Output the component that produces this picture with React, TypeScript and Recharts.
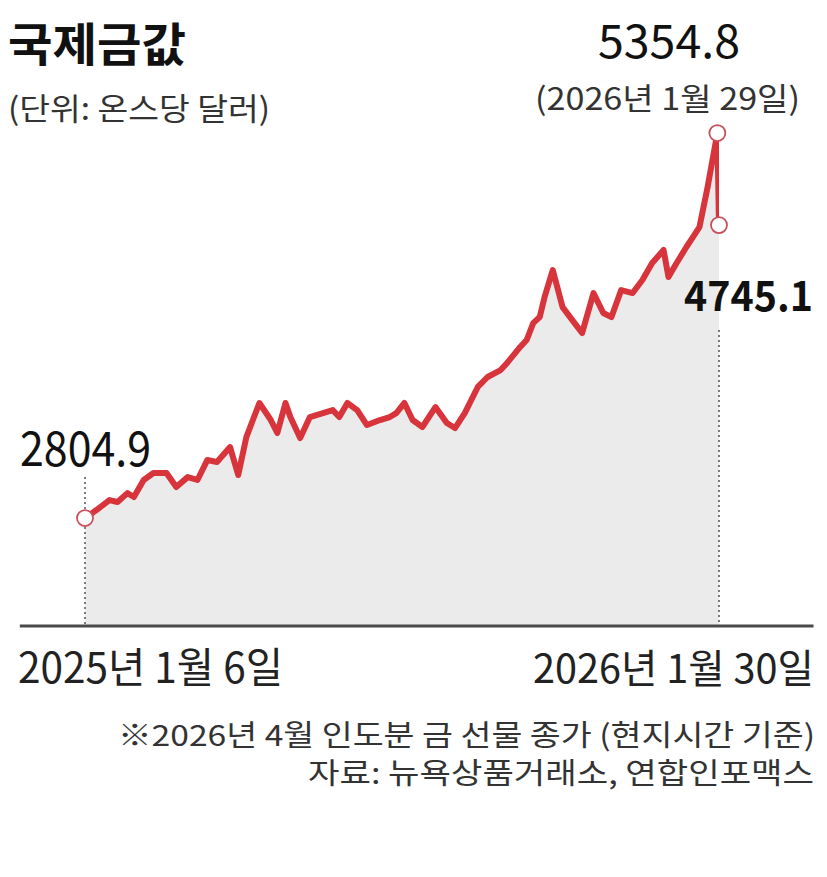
import React from "react"
import { ComposedChart, Area, Line, XAxis, YAxis, ReferenceLine, ReferenceDot } from "recharts"

// days since 2025-01-06 (day 388 = 2026-01-29, day 389 = 2026-01-30)
const days = [
  0, 7, 15, 20, 26, 30, 36, 42, 50, 56,
  63, 69, 75, 81, 89, 94, 99, 103, 107, 114,
  118, 123, 126, 132, 138, 146, 152, 156, 161, 167,
  173, 181, 187, 191, 196, 201, 207, 215, 222, 227,
  233, 241, 247, 255, 259, 267, 271, 275, 279, 282,
  287, 293, 299, 305, 312, 318, 323, 329, 336, 342,
  348, 355, 358, 363, 369, 373, 377, 382, 388, 389,
]

// April 2026 gold futures close, USD per ounce
const prices = [
  2804.9, 2858, 2924, 2911, 2970, 2944, 3057, 3103, 3103, 3010,
  3076, 3057, 3189, 3176, 3275, 3090, 3341, 3454, 3567, 3454,
  3368, 3567, 3474, 3335, 3474, 3500, 3520, 3474, 3567, 3520,
  3421, 3454, 3474, 3500, 3567, 3454, 3408, 3540, 3434, 3401,
  3500, 3673, 3739, 3785, 3832, 3938, 3984, 4096, 4136, 4269,
  4447, 4202, 4116, 4030, 4295, 4163, 4136, 4315, 4295, 4381,
  4494, 4580, 4401, 4494, 4600, 4666, 4732, 4997, 5354.8, 4745.1,
]

const startLabel = "2025년 1월 6일"
const endLabel = "2026년 1월 30일"
const peakDateLabel = "(2026년 1월 29일)"

const data = days.map((d, i) => ({ day: d, price: prices[i] }))
const first = data[0]
const last = data[data.length - 1]
const peak = data.reduce((a, b) => (b.price > a.price ? b : a))

const Y_MIN = 2090
const Y_MAX = 5355
const RED = "#d8343c"
const FONT = "'Noto Sans CJK KR', 'Noto Sans', sans-serif"

export default function App() {
  return (
    <div style={{ position: "absolute", left: 0, top: 0, width: 827, height: 877, background: "#fff" }}>
      <ComposedChart
        width={827}
        height={877}
        data={data}
        margin={{ top: 133, right: 108, bottom: 251, left: 85 }}
      >
        <XAxis dataKey="day" type="number" domain={[0, 389]} hide allowDataOverflow />
        <YAxis type="number" domain={[Y_MIN, Y_MAX]} hide allowDataOverflow />
        <Area
          dataKey="price"
          type="linear"
          stroke="none"
          fill="#ebebeb"
          fillOpacity={1}
          baseValue={Y_MIN}
          isAnimationActive={false}
        />
        {/* dotted drop lines */}
        <ReferenceLine
          segment={[{ x: first.day, y: 3076 }, { x: first.day, y: Y_MIN }]}
          stroke="#555"
          strokeWidth={1.5}
          strokeDasharray="2 3"
          ifOverflow="visible"
        />
        <ReferenceLine
          segment={[{ x: last.day, y: 4050 }, { x: last.day, y: Y_MIN }]}
          stroke="#555"
          strokeWidth={1.5}
          strokeDasharray="2 3"
          ifOverflow="visible"
        />
        {/* base line */}
        <ReferenceLine
          segment={[{ x: -40, y: Y_MIN }, { x: 447, y: Y_MIN }]}
          stroke="#4a4a4a"
          strokeWidth={3}
          ifOverflow="visible"
        />
        <Line
          dataKey="price"
          type="linear"
          stroke={RED}
          strokeWidth={6}
          strokeLinejoin="round"
          dot={false}
          isAnimationActive={false}
        />
        {[first, peak, last].map((p) => (
          <ReferenceDot
            key={p.day}
            x={p.day}
            y={p.price}
            r={8}
            fill="#fff"
            stroke="#c9505a"
            strokeWidth={1.8}
            ifOverflow="visible"
          />
        ))}
      </ComposedChart>

      <svg
        width={827}
        height={877}
        style={{ position: "absolute", left: 0, top: 0, pointerEvents: "none" }}
        fontFamily={FONT}
      >
        <text x={8} y={61} fontSize={46} fontWeight={700} fill="#111" textLength={178} lengthAdjust="spacingAndGlyphs">
          국제금값
        </text>
        <text x={8} y={120} fontSize={31} fill="#333" textLength={262} lengthAdjust="spacingAndGlyphs">
          (단위: 온스당 달러)
        </text>
        <text x={598} y={58} fontSize={46} fill="#111" textLength={142} lengthAdjust="spacingAndGlyphs">
          {peak.price.toFixed(1)}
        </text>
        <text x={535} y={110} fontSize={31} fill="#333" textLength={265} lengthAdjust="spacingAndGlyphs">
          {peakDateLabel}
        </text>
        <text x={20} y={466} fontSize={48} fill="#111" textLength={131} lengthAdjust="spacingAndGlyphs">
          {first.price.toFixed(1)}
        </text>
        <text x={684} y={311} fontSize={42} fontWeight={700} fill="#111" textLength={129} lengthAdjust="spacingAndGlyphs">
          {last.price.toFixed(1)}
        </text>
        <text x={18} y={683} fontSize={42} fill="#222" textLength={265} lengthAdjust="spacingAndGlyphs">
          {startLabel}
        </text>
        <text x={533} y={683} fontSize={40} fill="#222" textLength={281} lengthAdjust="spacingAndGlyphs">
          {endLabel}
        </text>
        <text x={118} y={746} fontSize={29} fill="#333" textLength={697} lengthAdjust="spacingAndGlyphs">
          ※2026년 4월 인도분 금 선물 종가 (현지시간 기준)
        </text>
        <text x={308} y={784} fontSize={29} fill="#333" textLength={506} lengthAdjust="spacingAndGlyphs">
          자료: 뉴욕상품거래소, 연합인포맥스
        </text>
      </svg>
    </div>
  )
}
